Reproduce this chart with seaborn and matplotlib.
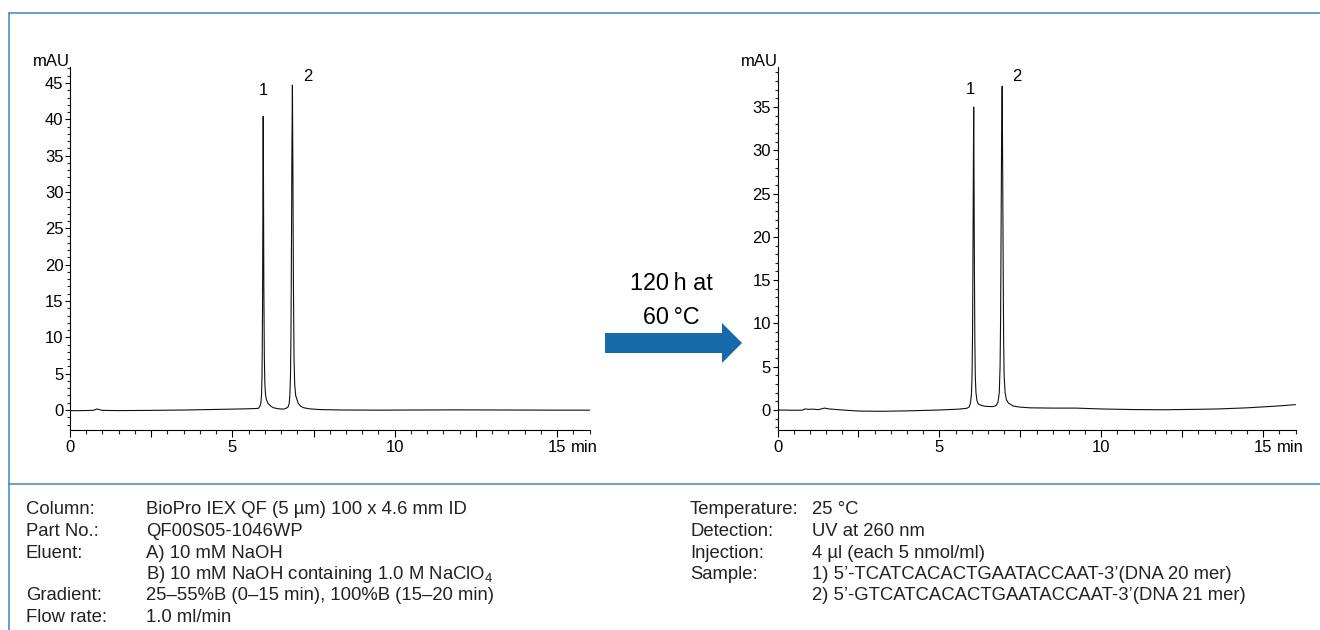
import matplotlib
matplotlib.use("Agg")
import matplotlib.pyplot as plt
from matplotlib.ticker import MultipleLocator, FuncFormatter
from matplotlib.lines import Line2D
from matplotlib.patches import Polygon
import seaborn as sns

# ---------------- data ----------------
LEFT_TIME = [0.00, 0.40, 0.70, 0.78, 0.83, 0.90, 1.00, 1.50, 2.50, 3.50, 4.50, 5.30, 5.70,
             5.80, 5.85, 5.88, 5.90, 5.915, 5.93, 5.94, 5.95, 5.96, 5.97, 5.985, 6.00, 6.02,
             6.05, 6.10, 6.18, 6.26, 6.40, 6.57, 6.66, 6.72, 6.75, 6.77, 6.79, 6.805, 6.82,
             6.835, 6.85, 6.865, 6.88, 6.90, 6.92, 6.95, 7.03, 7.10, 7.19, 7.35, 7.50, 7.70,
             8.00, 8.50, 9.50, 10.50, 12.00, 13.50, 15.00, 16.00]
LEFT_MAU = [-0.10, -0.08, -0.05, 0.05, 0.15, 0.05, -0.05, -0.08, -0.05, 0.00, 0.08, 0.15, 0.20,
            0.23, 0.50, 1.00, 2.20, 5.00, 14.0, 27.0, 40.4, 30.0, 17.0, 7.50, 3.80, 2.20,
            1.40, 0.92, 0.55, 0.32, 0.18, 0.12, 0.25, 0.45, 0.90, 1.90, 4.50, 10.0, 22.0,
            36.0, 44.7, 33.0, 18.0, 7.00, 3.60, 2.00, 0.92, 0.55, 0.32, 0.18, 0.12, 0.06,
            0.03, 0.00, -0.02, 0.00, 0.02, 0.00, -0.02, -0.02]

RIGHT_TIME = [0.00, 0.50, 0.78, 0.84, 0.95, 1.10, 1.25, 1.38, 1.45, 1.60, 2.00, 2.50, 3.20,
              4.00, 5.00, 5.60, 5.85, 5.92, 5.96, 5.99, 6.01, 6.025, 6.04, 6.05, 6.06, 6.07,
              6.08, 6.095, 6.11, 6.13, 6.16, 6.20, 6.30, 6.40, 6.55, 6.68, 6.76, 6.81, 6.85,
              6.875, 6.89, 6.905, 6.92, 6.94, 6.955, 6.97, 6.985, 7.00, 7.03, 7.07, 7.14,
              7.29, 7.50, 7.81, 8.50, 9.20, 10.00, 11.00, 12.00, 13.00, 13.60, 14.50, 15.10,
              15.60, 16.00]
RIGHT_MAU = [0.00, -0.03, -0.02, 0.12, 0.08, 0.10, 0.04, 0.15, 0.22, 0.12, 0.00, -0.12, -0.15,
             -0.10, 0.00, 0.10, 0.20, 0.35, 0.80, 1.80, 4.00, 9.00, 20.0, 28.0, 35.0, 27.0,
             18.0, 8.00, 3.80, 2.00, 1.10, 0.69, 0.52, 0.44, 0.40, 0.40, 0.55, 0.90, 2.00,
             5.00, 10.0, 20.0, 30.0, 37.4, 28.0, 17.0, 8.00, 4.00, 2.00, 1.20, 0.77,
             0.45, 0.33, 0.25, 0.22, 0.22, 0.12, 0.05, 0.03, 0.08, 0.12, 0.25, 0.38,
             0.50, 0.62]

X_TICKS = [0, 5, 10, 15]
X_UNIT = "min"
Y_UNIT = "mAU"
PEAK_LABELS = ["1", "2"]
ARROW_TEXT = ["120\u2009h at", "60\u2009°C"]

LEFT_INFO_LABELS = ["Column:", "Part No.:", "Eluent:", "", "Gradient:", "Flow rate:"]
LEFT_INFO_VALUES = ["BioPro IEX QF (5 µm) 100 x 4.6 mm ID",
                    "QF00S05-1046WP",
                    "A) 10 mM NaOH",
                    "B) 10 mM NaOH containing 1.0 M NaClO$_\\mathrm{4}$",
                    "25\u201355%B (0\u201315 min), 100%B (15\u201320 min)",
                    "1.0 ml/min"]
RIGHT_INFO_LABELS = ["Temperature:", "Detection:", "Injection:", "Sample:", ""]
RIGHT_INFO_VALUES = ["25 °C",
                     "UV at 260 nm",
                     "4 µl (each 5 nmol/ml)",
                     "1) 5\u2019-TCATCACACTGAATACCAAT-3\u2019(DNA 20 mer)",
                     "2) 5\u2019-GTCATCACACTGAATACCAAT-3\u2019(DNA 21 mer)"]

# ---------------- style ----------------
sns.set_theme(style="ticks")
plt.rcParams["font.family"] = ["Liberation Sans", "DejaVu Sans"]
plt.rcParams["mathtext.fontset"] = "custom"
plt.rcParams["mathtext.rm"] = "Liberation Sans"
plt.rcParams["mathtext.it"] = "Liberation Sans:italic"
plt.rcParams["mathtext.bf"] = "Liberation Sans:bold"

W, H = 1320, 630
fig = plt.figure(figsize=(W / 100, H / 100), dpi=100)
fig.patch.set_facecolor("white")

BLUE_FRAME = "#3a86c6"
BLUE_ARROW = "#176aa9"
TICK_FS = 12
INFO_FS = 13.3


def fx(x):
    return x / W


def fy(y):
    return 1 - y / H


def make_panel(rect, t, v, ylim, ymax_tick, lab1, lab2):
    ax = fig.add_axes(rect)
    sns.lineplot(x=t, y=v, ax=ax, color="#111111", linewidth=0.8,
                 sort=False, estimator=None)
    ax.set_xlim(0, 16)
    ax.set_ylim(*ylim)
    ax.set_facecolor("white")
    sns.despine(ax=ax)
    for s in ("left", "bottom"):
        ax.spines[s].set_linewidth(0.8)
        ax.spines[s].set_color("black")
    ax.xaxis.set_major_locator(MultipleLocator(2.5))
    ax.xaxis.set_minor_locator(MultipleLocator(0.5))
    ax.xaxis.set_major_formatter(FuncFormatter(
        lambda val, pos: (f"{int(round(val))}" if abs(val / 5 - round(val / 5)) < 1e-6
                          and round(val) in X_TICKS else "")))
    ax.yaxis.set_major_locator(MultipleLocator(5))
    ax.yaxis.set_minor_locator(MultipleLocator(1))
    ax.yaxis.set_major_formatter(FuncFormatter(
        lambda val, pos: f"{int(round(val))}" if -0.01 < val <= ymax_tick + 0.01 else ""))
    ax.tick_params(axis="x", which="major", direction="out", length=5, width=0.8,
                   pad=2, labelsize=TICK_FS, colors="black")
    ax.tick_params(axis="x", which="minor", direction="out", length=3, width=0.8)
    ax.tick_params(axis="y", which="major", direction="out", length=3.6, width=0.8,
                   pad=1, labelsize=TICK_FS, colors="black")
    ax.tick_params(axis="y", which="minor", direction="out", length=2.2, width=0.8)
    ax.set_xlabel("")
    ax.set_ylabel("")
    ax.annotate(Y_UNIT, xy=(0, 1), xycoords="axes fraction", xytext=(0, 1),
                textcoords="offset points", ha="right", va="baseline",
                fontsize=TICK_FS, color="black")
    ax.annotate(X_UNIT, xy=(15, 0), xycoords=("data", "axes fraction"),
                xytext=(10, -7), textcoords="offset points", ha="left", va="top",
                fontsize=TICK_FS, color="black")
    ax.text(lab1[0], lab1[1], PEAK_LABELS[0], ha="center", va="center",
            fontsize=TICK_FS, color="black")
    ax.text(lab2[0], lab2[1], PEAK_LABELS[1], ha="center", va="center",
            fontsize=TICK_FS, color="black")
    return ax


ax_l = make_panel([fx(70), fy(430), fx(519.5), 363 / H], LEFT_TIME, LEFT_MAU,
                  (-2.75, 47.2), 45, (5.95, 43.9), (7.33, 45.9))
ax_r = make_panel([fx(777.5), fy(430), fx(518), 363 / H], RIGHT_TIME, RIGHT_MAU,
                  (-2.31, 39.62), 35, (5.97, 37.0), (7.39, 38.5))

# ---------------- frame ----------------
for xs, ys in [((9, W), (13, 13)), ((9, 9), (13, H)), ((9, W), (484, 484))]:
    fig.add_artist(Line2D([fx(xs[0]), fx(xs[1])], [fy(ys[0]), fy(ys[1])],
                          color=BLUE_FRAME, linewidth=1.1, transform=fig.transFigure))

# ---------------- arrow ----------------
arrow_px = [(605, 333), (722, 333), (722, 323), (742, 343), (722, 363), (722, 353), (605, 353)]
fig.add_artist(Polygon([(fx(a), fy(b)) for a, b in arrow_px], closed=True,
                       facecolor=BLUE_ARROW, edgecolor="none", transform=fig.transFigure))
fig.text(fx(671), fy(284), ARROW_TEXT[0], ha="center", va="center", fontsize=16.8,
         color="black")
fig.text(fx(671), fy(317), ARROW_TEXT[1], ha="center", va="center", fontsize=16.8,
         color="black")

# ---------------- info text ----------------
row_base = [514.5, 536, 557.5, 579, 600.5, 622]
for i, (lab, val) in enumerate(zip(LEFT_INFO_LABELS, LEFT_INFO_VALUES)):
    if lab:
        fig.text(fx(26), fy(row_base[i]), lab, ha="left", va="baseline",
                 fontsize=INFO_FS, color="#222222")
    fig.text(fx(146), fy(row_base[i]), val, ha="left", va="baseline",
             fontsize=INFO_FS, color="#222222")
for i, (lab, val) in enumerate(zip(RIGHT_INFO_LABELS, RIGHT_INFO_VALUES)):
    if lab:
        fig.text(fx(690), fy(row_base[i]), lab, ha="left", va="baseline",
                 fontsize=INFO_FS, color="#222222")
    fig.text(fx(812), fy(row_base[i]), val, ha="left", va="baseline",
             fontsize=INFO_FS, color="#222222")

fig.savefig("out.png", dpi=100, facecolor="white")
